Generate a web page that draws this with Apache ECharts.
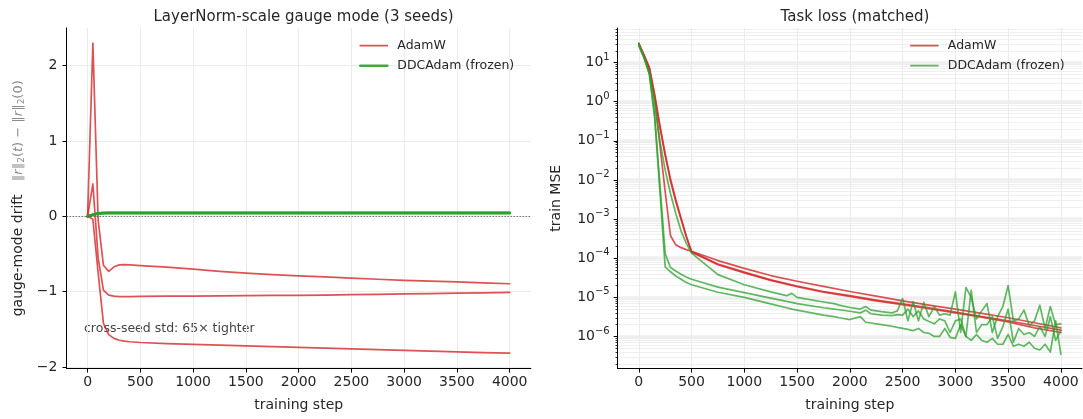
<!DOCTYPE html>
<html><head><meta charset="utf-8">
<script src="https://cdn.jsdelivr.net/npm/echarts@6/dist/echarts.min.js"></script>
<style>html,body{margin:0;padding:0;background:#fff}#c{width:1083px;height:419px}</style>
</head><body><div id="c"></div>
<script>
// ---------- tick labels ----------
const xTicks = [0, 500, 1000, 1500, 2000, 2500, 3000, 3500, 4000];
const leftYTicks = [-2, -1, 0, 1, 2];
const rightYExps = [-6, -5, -4, -3, -2, -1, 0, 1];

// ---------- left panel: gauge-mode drift ----------
const leftSteps = [0,50,100,150,200,250,300,350,400,500,750,1000,1250,1500,1750,2000,2250,2500,2750,3000,3250,3500,3750,4000];
const adamwDrift1 = [0,2.30,-0.05,-0.65,-0.73,-0.67,-0.645,-0.64,-0.645,-0.655,-0.675,-0.70,-0.73,-0.755,-0.775,-0.79,-0.805,-0.82,-0.835,-0.85,-0.86,-0.87,-0.883,-0.895];
const adamwDrift2 = [0,0.43,-0.55,-0.98,-1.045,-1.06,-1.065,-1.065,-1.065,-1.063,-1.06,-1.058,-1.055,-1.052,-1.05,-1.048,-1.045,-1.04,-1.035,-1.03,-1.025,-1.02,-1.015,-1.01];
const adamwDrift3 = [0,-0.04,-0.75,-1.42,-1.57,-1.62,-1.645,-1.657,-1.665,-1.675,-1.69,-1.70,-1.71,-1.72,-1.73,-1.74,-1.75,-1.76,-1.77,-1.78,-1.79,-1.80,-1.81,-1.815];
const ddcDrift1 = [0,0.02,0.038,0.043,0.044,0.044,0.044,0.044,0.044,0.044,0.044,0.044,0.044,0.044,0.044,0.044,0.044,0.044,0.044,0.044,0.044,0.044,0.044,0.044];
const ddcDrift2 = [0,0.022,0.04,0.045,0.046,0.046,0.046,0.046,0.046,0.046,0.046,0.046,0.046,0.046,0.046,0.046,0.046,0.046,0.046,0.046,0.046,0.046,0.046,0.046];
const ddcDrift3 = [0,0.021,0.039,0.044,0.045,0.045,0.045,0.045,0.045,0.045,0.045,0.045,0.045,0.045,0.045,0.045,0.045,0.045,0.045,0.045,0.045,0.045,0.045,0.045];

// ---------- right panel: train MSE ----------
const redSteps = [0,50,100,150,200,250,300,350,400,450,500,750,1000,1250,1500,1750,2000,2250,2500,2750,3000,3250,3500,3750,4000];
const adamwLoss1 = [31.6,15.1,6.6,1.12,0.079,5.0e-3,3.8e-4,2.2e-4,1.86e-4,1.66e-4,1.51e-4,8.7e-5,5.5e-5,3.6e-5,2.57e-5,1.9e-5,1.41e-5,1.07e-5,8.1e-6,6.3e-6,5.0e-6,3.9e-6,3.0e-6,2.24e-6,1.66e-6];
const adamwLoss2 = [30.2,15.8,7.6,1.58,0.25,0.047,0.0107,3.2e-3,1.07e-3,3.7e-4,1.45e-4,6.8e-5,4.2e-5,2.7e-5,1.86e-5,1.35e-5,1.05e-5,8.1e-6,6.5e-6,5.1e-6,4.0e-6,3.1e-6,2.34e-6,1.66e-6,1.26e-6];
const adamwLoss3 = [28.2,14.8,7.1,1.41,0.22,0.042,9.5e-3,2.8e-3,1.0e-3,3.5e-4,1.45e-4,7.1e-5,4.4e-5,2.8e-5,1.95e-5,1.41e-5,1.1e-5,8.5e-6,6.8e-6,5.4e-6,4.2e-6,3.2e-6,2.5e-6,1.9e-6,1.45e-6];

const greenSteps = [0,50,100,150,200,250,300,350,400,450,500,750,1000,1250,1400,1450,1500,1750,1850,1900,2000,2100,2150,2200,2300,2400,2450,
  2500,2550,2600,2650,2700,2750,2800,2850,2900,2950,3000,3050,3100,3150,3200,3250,3300,3350,3400,3450,3500,3550,3600,3650,3700,3750,3800,3850,3900,3950,4000];
const ddcLoss1 = [28.2,13.2,5.0,0.4,5.0e-3,6.0e-5,4.5e-5,3.5e-5,2.9e-5,2.4e-5,2.1e-5,1.35e-5,1.0e-5,6.8e-6,5.4e-6,5.0e-6,4.7e-6,3.5e-6,3.2e-6,3.0e-6,2.7e-6,3.2e-6,2.3e-6,2.2e-6,2.0e-6,1.82e-6,1.7e-6,
  1.6e-6,1.51e-6,1.41e-6,1.6e-6,1.26e-6,1.2e-6,1.0e-6,1.0e-6,1.6e-6,9.5e-7,8.9e-7,2.0e-6,1.0e-6,7.9e-7,1.12e-6,7.9e-7,7.1e-7,8.9e-7,6.3e-7,6.3e-7,1.12e-6,5.6e-7,6.3e-7,5.6e-7,7.1e-7,5.0e-7,4.5e-7,6.3e-7,4.0e-7,2.5e-6,3.5e-7];
const ddcLoss2 = [29.5,13.8,5.2,0.45,7.9e-3,1.32e-4,5.8e-5,4.7e-5,3.9e-5,3.3e-5,2.9e-5,1.82e-5,1.32e-5,9.5e-6,7.9e-6,7.4e-6,6.9e-6,5.4e-6,5.0e-6,4.8e-6,4.4e-6,4.0e-6,4.7e-6,3.8e-6,3.5e-6,3.4e-6,3.6e-6,
  3.5e-6,5.0e-6,3.2e-6,4.5e-6,2.8e-6,2.4e-6,2.1e-6,2.8e-6,2.5e-6,1.26e-6,2.5e-6,2.8e-6,1.0e-6,1.51e-5,1.26e-6,2.0e-6,2.0e-6,3.2e-6,8.9e-7,1.78e-6,5.0e-6,7.1e-7,1.6e-6,1.12e-6,1.26e-6,1.0e-6,1.78e-6,1.0e-6,3.2e-6,7.9e-7,1.41e-6];
const ddcLoss3 = [26.3,13.2,5.6,1.0,0.1,0.0178,4.5e-3,1.41e-3,5.0e-4,2.4e-4,1.35e-4,3.8e-5,2.1e-5,1.38e-5,1.1e-5,1.26e-5,1.0e-5,7.6e-6,6.9e-6,6.3e-6,5.5e-6,5.0e-6,5.8e-6,4.7e-6,4.3e-6,4.0e-6,4.5e-6,
  9.3e-6,2.5e-6,7.8e-6,2.5e-6,7.4e-6,3.2e-6,5.8e-6,3.5e-6,3.8e-6,3.5e-6,1.38e-5,1.26e-6,1.78e-5,1.0e-5,2.8e-6,4.5e-6,6.9e-6,1.26e-6,3.2e-6,5.8e-6,2.0e-5,2.5e-6,2.8e-6,4.7e-6,1.9e-6,2.5e-6,6.3e-6,1.6e-6,5.8e-6,2.0e-6,2.1e-6];

// ---------- styling ----------
const FONT = 'DejaVu Sans';
const TXT = '#262626';
const RED = '#d62728';
const GREEN = '#2ca02c';
const minus = v => (v < 0 ? '\u2212' + Math.abs(v) : String(v));

// minor log ticks (2..9 x 10^n) for the right panel
const minorLog = [];
for (let n = -7; n <= 1; n++) for (let k = 2; k <= 9; k++) minorLog.push(Math.log10(k) + n);

const pairs = (xs, ys) => xs.map((x, i) => [x, ys[i]]);
const logPairs = (xs, ys) => xs.map((x, i) => [x, Math.log10(ys[i])]);

function lineSeries(name, data, xi, yi, color, width, opacity) {
  return {
    type: 'line', name, data, xAxisIndex: xi, yAxisIndex: yi,
    symbol: 'none', showSymbol: false, animation: false, silent: true,
    lineStyle: { color, width, opacity, cap: 'round', join: 'round' },
    itemStyle: { color },
    z: 3
  };
}

const xAxisCommon = (gi) => ({
  type: 'value', gridIndex: gi, min: -200, max: 4200,
  name: 'training step', nameLocation: 'middle', nameGap: 30,
  nameTextStyle: { fontFamily: FONT, fontSize: 14, color: TXT },
  axisLine: { show: true, onZero: false, lineStyle: { color: '#000', width: 1 } },
  axisTick: { show: true, length: 4, lineStyle: { color: '#000', width: 1 }, customValues: xTicks },
  axisLabel: { fontFamily: FONT, fontSize: 14, color: TXT, margin: 7, customValues: xTicks, formatter: v => String(v) },
  splitLine: { show: true, lineStyle: { color: '#ebebeb', width: 1 } }
});

const series = [
  lineSeries('AdamW', pairs(leftSteps, adamwDrift1), 0, 0, RED, 1.7, 0.8),
  lineSeries('AdamW', pairs(leftSteps, adamwDrift2), 0, 0, RED, 1.7, 0.8),
  lineSeries('AdamW', pairs(leftSteps, adamwDrift3), 0, 0, RED, 1.7, 0.8),
  lineSeries('DDCAdam (frozen)', pairs(leftSteps, ddcDrift1), 0, 0, GREEN, 2.6, 0.9),
  lineSeries('DDCAdam (frozen)', pairs(leftSteps, ddcDrift2), 0, 0, GREEN, 2.6, 0.9),
  lineSeries('DDCAdam (frozen)', pairs(leftSteps, ddcDrift3), 0, 0, GREEN, 2.6, 0.9),
  lineSeries('AdamW', logPairs(redSteps, adamwLoss1), 1, 1, RED, 1.7, 0.8),
  lineSeries('AdamW', logPairs(redSteps, adamwLoss2), 1, 1, RED, 1.7, 0.8),
  lineSeries('AdamW', logPairs(redSteps, adamwLoss3), 1, 1, RED, 1.7, 0.8),
  lineSeries('DDCAdam (frozen)', logPairs(greenSteps, ddcLoss1), 1, 1, GREEN, 1.7, 0.75),
  lineSeries('DDCAdam (frozen)', logPairs(greenSteps, ddcLoss2), 1, 1, GREEN, 1.7, 0.75),
  lineSeries('DDCAdam (frozen)', logPairs(greenSteps, ddcLoss3), 1, 1, GREEN, 1.7, 0.75)
];
// dotted zero reference line on the left panel
series[0].markLine = {
  silent: true, symbol: 'none', animation: false,
  label: { show: false },
  lineStyle: { color: '#555', type: [1.5, 1.5], width: 0.8 },
  data: [{ yAxis: 0 }]
};

const legendText = { fontFamily: FONT, fontSize: 12.5, color: TXT, padding: [0, 0, 0, 5], lineHeight: 14 };
const hideSym = { opacity: 0, borderWidth: 0 };
const option = {
  backgroundColor: '#ffffff',
  animation: false,
  title: [
    { text: 'LayerNorm-scale gauge mode (3 seeds)', left: 298.6, top: 5, textAlign: 'center',
      textStyle: { fontFamily: FONT, fontSize: 15, fontWeight: 'normal', color: TXT } },
    { text: 'Task loss (matched)', left: 850, top: 5, textAlign: 'center',
      textStyle: { fontFamily: FONT, fontSize: 15, fontWeight: 'normal', color: TXT } }
  ],
  legend: [
    { left: 359, top: 38.7, orient: 'vertical', padding: 0, itemWidth: 27, itemHeight: 14, itemGap: 6,
      selectedMode: false, textStyle: legendText, itemStyle: hideSym,
      data: [
        { name: 'AdamW', lineStyle: { color: RED, width: 1.7, opacity: 0.8 }, itemStyle: hideSym },
        { name: 'DDCAdam (frozen)', lineStyle: { color: GREEN, width: 2.6, opacity: 0.9 }, itemStyle: hideSym }
      ] },
    { left: 910, top: 38.7, orient: 'vertical', padding: 0, itemWidth: 27, itemHeight: 14, itemGap: 6,
      selectedMode: false, textStyle: legendText, itemStyle: hideSym,
      data: [
        { name: 'AdamW', lineStyle: { color: RED, width: 1.7, opacity: 0.8 }, itemStyle: hideSym },
        { name: 'DDCAdam (frozen)', lineStyle: { color: GREEN, width: 1.7, opacity: 0.75 }, itemStyle: hideSym }
      ] }
  ],
  grid: [
    { left: 66.5, top: 28, width: 464.3, height: 340.5, containLabel: false },
    { left: 617.7, top: 28, width: 464.3, height: 340.5, containLabel: false }
  ],
  xAxis: [xAxisCommon(0), xAxisCommon(1)],
  yAxis: [
    { type: 'value', gridIndex: 0, position: 'left', min: -2.02, max: 2.5,
      name: '{a|gauge-mode drift}   {m|\u2016}{i|r}{m|\u2016}{s|2}{m|(}{i|t}{m|) \u2212 \u2016}{i|r}{m|\u2016}{s|2}{m|(0)}',
      nameLocation: 'middle', nameGap: 40,
      nameTextStyle: { fontFamily: FONT, fontSize: 14, color: TXT,
        rich: {
          a: { fontFamily: FONT, fontSize: 14, color: TXT },
          m: { fontFamily: FONT, fontSize: 13, color: '#8c8c8c' },
          i: { fontFamily: FONT, fontSize: 13, color: '#8c8c8c', fontStyle: 'italic' },
          s: { fontFamily: FONT, fontSize: 9, color: '#8c8c8c', padding: [7, 0, 0, 0] }
        } },
      axisLine: { show: true, onZero: false, lineStyle: { color: '#000', width: 1 } },
      axisTick: { show: true, length: 4, lineStyle: { color: '#000', width: 1 }, customValues: leftYTicks },
      axisLabel: { fontFamily: FONT, fontSize: 14, color: TXT, margin: 9, customValues: leftYTicks, formatter: minus },
      splitLine: { show: true, lineStyle: { color: '#ebebeb', width: 1 } }
    },
    { type: 'value', gridIndex: 1, position: 'left', min: -6.82, max: 1.885,
      name: 'train MSE', nameLocation: 'middle', nameGap: 54,
      nameTextStyle: { fontFamily: FONT, fontSize: 14, color: TXT },
      axisLine: { show: true, onZero: false, lineStyle: { color: '#000', width: 1 } },
      axisTick: { show: true, length: 4, lineStyle: { color: '#000', width: 1 }, customValues: rightYExps },
      axisLabel: { fontFamily: FONT, color: TXT, margin: 8, customValues: rightYExps,
        formatter: v => { const e = Math.round(v); return '{b|10}{s|' + minus(e) + '}'; },
        rich: {
          b: { fontFamily: FONT, fontSize: 14, color: TXT },
          s: { fontFamily: FONT, fontSize: 10, color: TXT, padding: [0, 0, 11, 0] }
        } },
      splitLine: { show: true, lineStyle: { color: '#efefef', width: 3.5 } }
    },
    { type: 'value', gridIndex: 1, position: 'left', offset: 0, min: -6.82, max: 1.885,
      axisLine: { show: false, onZero: false },
      axisTick: { show: true, length: 2.2, lineStyle: { color: '#000', width: 0.8 }, customValues: minorLog },
      axisLabel: { show: false },
      splitLine: { show: true, lineStyle: { color: '#ebebeb', width: 0.8 } }
    }
  ],
  graphic: [
    { type: 'text', left: 84, top: 322, silent: true,
      style: { text: 'cross-seed std: 65\u00d7 tighter', fontFamily: FONT, fontSize: 12.5, fill: '#444' } }
  ],
  series
};
const chart = echarts.init(document.getElementById('c'), null, { renderer: 'canvas' });
chart.setOption(option);
</script>
</body></html>
